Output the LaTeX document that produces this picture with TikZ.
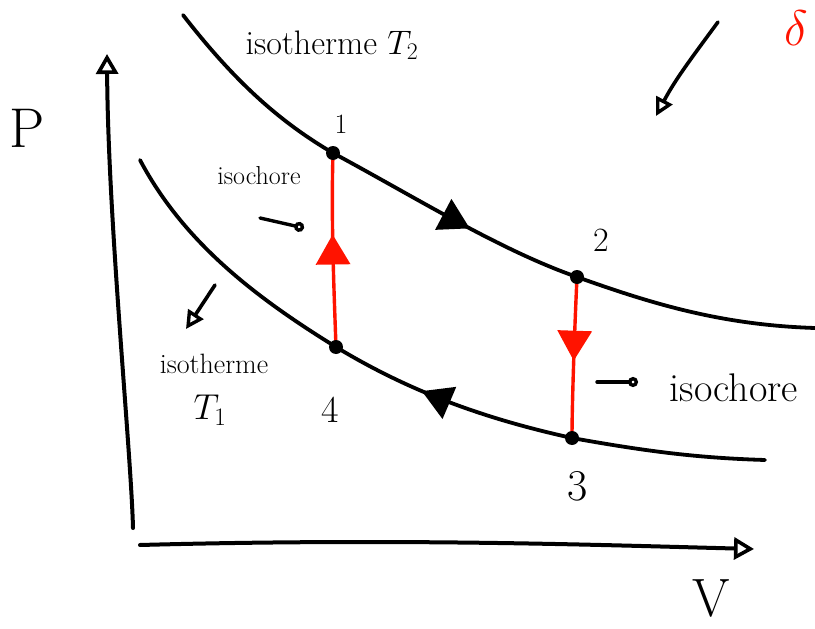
\RequirePackage{fix-cm}
\documentclass[tikz,border=0pt]{standalone}
\usepackage{fontspec}
\usetikzlibrary{arrows.meta,decorations.markings}
\begin{document}
\begin{tikzpicture}[x=1pt,y=-1pt,line cap=round,line join=round,
  curve/.style={line width=3.8pt,black},
  iso/.style={line width=3.4pt,red!85!orange},
  axis/.style={line width=4pt,-{Triangle[open,length=20pt,width=22pt,line width=3.6pt]}},
  hint/.style={line width=3.6pt,-{Triangle[open,length=18pt,width=18pt,line width=3.4pt]}},
  pointer/.style={line width=3.4pt,-{Circle[open,length=10pt,width=10pt,line width=3.4pt]}},
  lbl/.style={inner sep=0pt},
  dot/.style={circle,fill=black,inner sep=0pt,minimum size=14pt},
  tip/.style={decoration={markings,mark=at position #1 with {\arrow{Triangle[length=30pt,width=34pt]}}},postaction={decorate}}]
\useasboundingbox (0,0) rectangle (815,629);
% points
\coordinate (p1) at (333,153);
\coordinate (p2) at (577,277);
\coordinate (p3) at (572,438);
\coordinate (p4) at (336,347);
% axes
\coordinate (yb) at (133,528);
\coordinate (yt) at (107,54);
\coordinate (xl) at (140,545);
\coordinate (xr) at (754,549);
\draw[axis] (yb) .. controls (131,450) and (108,220) .. (yt);
\draw[axis] (xl) .. controls (400,538) and (600,545) .. (xr);
% upper isotherm
\draw[curve] (183,15) .. controls (235,82) and (280,122) .. (p1);
\draw[curve,tip=0.57] (p1) .. controls (420,200) and (500,250) .. (p2);
\draw[curve] (p2) .. controls (650,303) and (720,325) .. (815,328);
% lower isotherm
\draw[curve] (140,160) .. controls (185,245) and (260,300) .. (p4);
\draw[curve,tip=0.62] (p3) .. controls (500,422) and (420,398) .. (p4);
\draw[curve] (p3) .. controls (650,452) and (700,458) .. (765,460);
% isochores
\draw[iso,tip=0.58] (p4) .. controls (334,290) and (331,220) .. (p1);
\draw[iso,tip=0.52] (p2) .. controls (575,320) and (572,400) .. (p3);
\node[dot] (d1) at (p1) {};
\node[dot] (d2) at (p2) {};
\node[dot] (d3) at (p3) {};
\node[dot] (d4) at (p4) {};
% hints
\coordinate (h1a) at (718,22);
\coordinate (h1b) at (656,116);
\draw[hint] (h1a) .. controls (690,60) and (675,80) .. (h1b);
\coordinate (h2a) at (215,285);
\coordinate (h2b) at (186,329);
\draw[hint] (h2a) -- (h2b);
\coordinate (q1a) at (260,218);
\coordinate (q1b) at (304,228);
\draw[pointer] (q1a) -- (q1b);
\coordinate (q2a) at (597,382);
\coordinate (q2b) at (638,382);
\draw[pointer] (q2a) -- (q2b);
% labels
\node[lbl,font=\fontsize{56}{58}\selectfont] (lP) at (27,128) {P};
\node[lbl,font=\fontsize{54}{56}\selectfont] (lV) at (711,598) {V};
\node[lbl,font=\fontsize{34}{36}\selectfont] (t2) at (332,45) {isotherme $T_2$};
\node[lbl,font=\fontsize{28}{30}\selectfont] (n1) at (341,124) {1};
\node[lbl,font=\fontsize{26}{28}\selectfont] (ic1) at (259,176) {isochore};
\node[lbl,font=\fontsize{34}{36}\selectfont] (n2) at (601,240) {2};
\node[lbl,font=\fontsize{28}{30}\selectfont] (t1a) at (214,364) {isotherme};
\node[lbl,font=\fontsize{36}{38}\selectfont] (t1b) at (210,410) {$T_1$};
\node[lbl,font=\fontsize{38}{40}\selectfont] (n4) at (330,410) {4};
\node[lbl,font=\fontsize{40}{42}\selectfont] (ic2) at (734,388) {isochore};
\node[lbl,font=\fontsize{44}{46}\selectfont] (n3) at (578,486) {3};
\node[lbl,text=red!85!orange,font=\fontsize{50}{52}\selectfont] (del) at (796,28) {$\delta$};
\end{tikzpicture}
\end{document}
